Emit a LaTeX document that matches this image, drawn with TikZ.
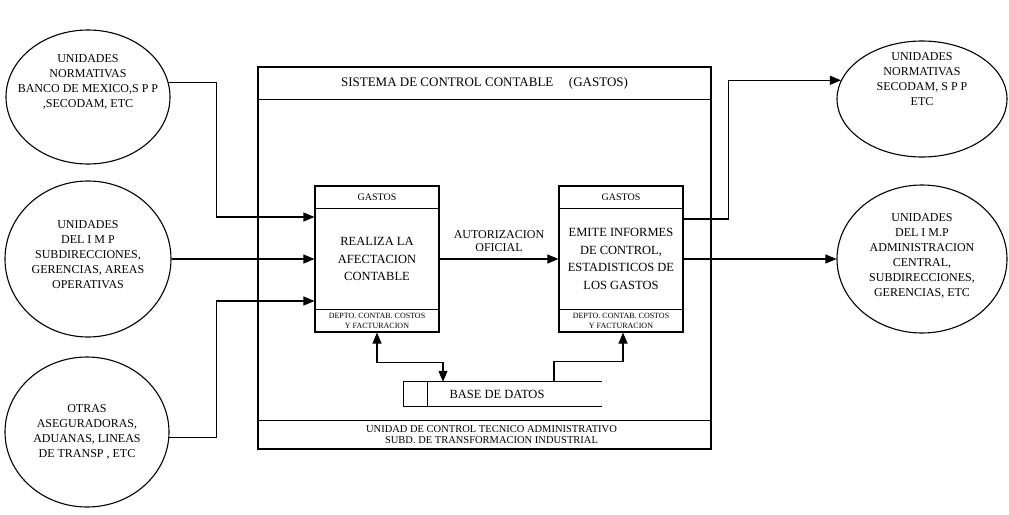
\documentclass[tikz,border=0pt]{standalone}
\usepackage{fontspec}
\setmainfont{Liberation Serif}
\usepackage{tikz}
\usetikzlibrary{arrows.meta,shapes.geometric,positioning}

\tikzset{
  lw/.style={line width=1.1pt},
  flow/.style={lw, -{Triangle[length=11pt,width=9pt]}},
  ent/.style={draw, lw, ellipse, inner sep=0pt},
  enttxt/.style={align=center, font=\fontsize{12}{15}\selectfont},
  procbox/.style={draw, lw, minimum width=124pt, minimum height=146pt, align=center,
    font=\fontsize{12.5}{17.5}\selectfont},
  headtxt/.style={font=\fontsize{10}{12}\selectfont},
  foottxt/.style={align=center, font=\fontsize{8}{10.5}\selectfont},
}

\begin{document}
\begin{tikzpicture}[x=1pt,y=-1pt]
    \useasboundingbox (0,0) rectangle (1009,514);

    \node[draw, lw, minimum width=453pt, minimum height=382pt] (sys) at (484.5,258) {};
    \draw[lw] ([yshift=-33pt]sys.north west) -- ([yshift=-33pt]sys.north east);
    \draw[lw] ([yshift=29pt]sys.south west) -- ([yshift=29pt]sys.south east);
    \node[font=\fontsize{13}{15}\selectfont] (titulo) at ([yshift=-16.5pt]sys.north)
        {SISTEMA DE CONTROL CONTABLE\hspace{1.2em}(GASTOS)};
    \node[align=center, font=\fontsize{10.5}{11.5}\selectfont] (unidad) at ([xshift=7pt,yshift=15pt]sys.south)
        {UNIDAD DE CONTROL TECNICO ADMINISTRATIVO\\SUBD. DE TRANSFORMACION INDUSTRIAL};

    \node[procbox] (proc1) at (377,259) {REALIZA LA\\AFECTACION\\CONTABLE};
    \node[procbox] (proc2) at (621,259) {EMITE INFORMES\\DE CONTROL,\\ESTADISTICOS DE\\LOS GASTOS};
    \foreach \p in {proc1,proc2} {
        \draw[lw] ([yshift=-23pt]\p.north west) -- ([yshift=-23pt]\p.north east);
        \draw[lw] ([yshift=23pt]\p.south west) -- ([yshift=23pt]\p.south east);
        \node[headtxt] (\p-head) at ([yshift=-11.5pt]\p.north) {GASTOS};
        \node[foottxt] (\p-foot) at ([yshift=11.5pt]\p.south) {DEPTO. CONTAB. COSTOS\\Y FACTURACION};
    }

    \node[minimum width=198pt, minimum height=24pt, inner sep=0pt] (db) at (503,394) {};
    \draw[lw] (db.north east) -- (db.north west) -- (db.south west) -- (db.south east);
    \draw[lw] ([xshift=24pt]db.north west) -- ([xshift=24pt]db.south west);
    \node[font=\fontsize{12.5}{15}\selectfont] (dbtxt) at (497,394) {BASE DE DATOS};

    \node[ent, minimum width=164pt, minimum height=134pt] (e1) at (88,97) {};
    \node[enttxt] (e1txt) at (88,82) {UNIDADES\\NORMATIVAS\\BANCO DE MEXICO,S P P\\,SECODAM, ETC};
    \node[ent, minimum width=166pt, minimum height=156pt] (e2) at (88,259) {};
    \node[enttxt] (e2txt) at (88,255) {UNIDADES\\DEL I M P\\SUBDIRECCIONES,\\GERENCIAS, AREAS\\OPERATIVAS};
    \node[ent, minimum width=164pt, minimum height=150pt] (e3) at (87,432) {};
    \node[enttxt] (e3txt) at (87,432) {OTRAS\\ASEGURADORAS,\\ADUANAS, LINEAS\\DE TRANSP , ETC};
    \node[ent, minimum width=170pt, minimum height=116pt] (r1) at (922,99) {};
    \node[enttxt] (r1txt) at (922,79) {UNIDADES\\NORMATIVAS\\SECODAM, S P P\\ETC};
    \node[ent, minimum width=170pt, minimum height=148pt] (r2) at (922,259) {};
    \node[enttxt] (r2txt) at (922,256) {UNIDADES\\DEL I M.P\\ADMINISTRACION\\CENTRAL,\\SUBDIRECCIONES,\\GERENCIAS, ETC};

    \draw[flow] (e1.10) -| ([xshift=-98pt,yshift=42pt]proc1.west) -- ([yshift=42pt]proc1.west);
    \draw[flow] (e2.east) -- (proc1.west);
    \draw[flow] (e3.356) -| ([xshift=-98pt,yshift=-42pt]proc1.west) -- ([yshift=-42pt]proc1.west);

    \draw[flow] (proc1.east) -- (proc2.west)
        node[midway, above=4pt, align=center, font=\fontsize{12}{13}\selectfont] (aut) {AUTORIZACION\\OFICIAL};

    \draw[flow] ([yshift=40pt]proc2.east) -- ++(45,0) |- (r1.167);
    \draw[flow] (proc2.east) -- (r2.west);

    \draw[lw, {Triangle[length=11pt,width=9pt]}-{Triangle[length=11pt,width=9pt]}]
        (proc1.south) -- ++(0,30) -| ([xshift=-60pt]db.north);
    \draw[flow] ([xshift=51pt]db.north) -- ++(0,-20) -| ([xshift=2pt]proc2.south);
\end{tikzpicture}
\end{document}
